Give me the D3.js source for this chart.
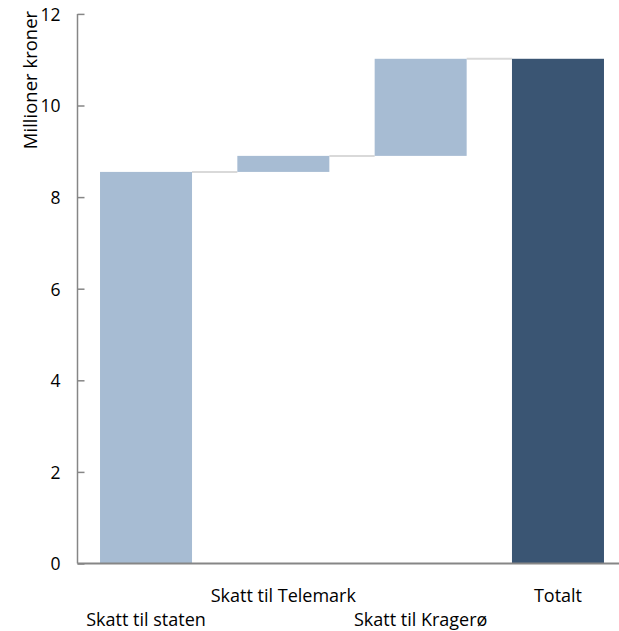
<!DOCTYPE html>
<html><head><meta charset="utf-8">
<script src="https://cdn.jsdelivr.net/npm/d3@7"></script>
<style>body{margin:0;background:#fff}svg{display:block}text{font-family:"Open Sans","Noto Sans",sans-serif;fill:#000}</style>
</head><body><svg id="c" width="619" height="631"></svg>
<script>
const categories = ["Skatt til staten","Skatt til Telemark","Skatt til Kragerø","Totalt"];
const values = [8.55, 0.35, 2.12, 11.02];
const isTotal = [false, false, false, true];
const yTicks = [0,2,4,6,8,10,12];

const svg = d3.select("#c");
const x = d3.scaleBand().domain(categories).range([77.5, 626.5]).paddingInner(0.33).paddingOuter(0.164);
const y = d3.scaleLinear().domain([0,12]).range([563.5, 13.9]);

let run = 0;
const bars = categories.map((c,i)=>{
  let b0, b1;
  if (isTotal[i]) { b0 = 0; b1 = values[i]; run = values[i]; }
  else { b0 = run; b1 = run + values[i]; run = b1; }
  return {c, b0, b1, total:isTotal[i]};
});

bars.slice(0,-1).forEach((d,i)=>{
  const n = bars[i+1];
  svg.append("line")
    .attr("x1", x(d.c)+x.bandwidth()).attr("x2", x(n.c))
    .attr("y1", y(d.b1)).attr("y2", y(d.b1))
    .attr("stroke","#d9d9d9").attr("stroke-width",2);
});

svg.selectAll("rect.bar").data(bars).enter().append("rect")
  .attr("x", d=>x(d.c)).attr("width", x.bandwidth())
  .attr("y", d=>y(d.b1)).attr("height", d=>y(d.b0)-y(d.b1))
  .attr("fill", d=>d.total ? "#3a5573" : "#a7bcd3");

const ya = svg.append("g").attr("transform","translate(77.5,0)")
  .call(d3.axisRight(y).tickValues(yTicks).tickSize(7).tickFormat(d3.format("d")));
ya.select(".domain").remove();
ya.selectAll(".tick line").attr("stroke","#868686").attr("stroke-width",1.5);
ya.selectAll(".tick text").attr("x",-17).attr("text-anchor","end").attr("font-size",17.5).attr("dy","0.36em");
svg.append("line").attr("x1",77.5).attr("x2",77.5).attr("y1",y(12)).attr("y2",y(0))
  .attr("stroke","#868686").attr("stroke-width",1.5);
svg.append("line").attr("x1",77.5).attr("x2",619).attr("y1",y(0)).attr("y2",y(0))
  .attr("stroke","#868686").attr("stroke-width",2);

svg.selectAll("text.cat").data(categories).enter().append("text")
  .attr("class","cat")
  .attr("x", d=>x(d)+x.bandwidth()/2)
  .attr("y", (d,i)=> i%2===0 ? 626 : 602)
  .attr("text-anchor","middle").attr("font-size",18)
  .text(d=>d);

svg.append("text").attr("transform","translate(37,80) rotate(-90)")
  .attr("text-anchor","middle").attr("font-size",18.5).text("Millioner kroner");
</script></body></html>
